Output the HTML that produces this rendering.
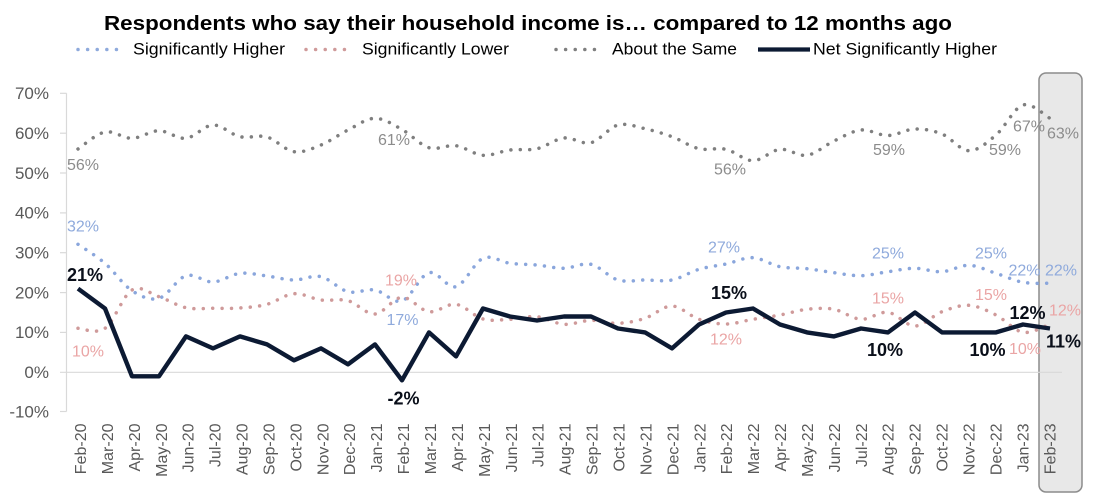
<!DOCTYPE html>
<html><head><meta charset="utf-8">
<style>
html,body{margin:0;padding:0;background:#fff;}
svg{display:block;font-family:"Liberation Sans",Arial,sans-serif;}
</style></head><body>
<svg width="1093" height="498" viewBox="0 0 1093 498" xmlns="http://www.w3.org/2000/svg">
<!-- highlight box -->
<rect x="1039" y="73" width="43" height="419" rx="7" fill="#e8e8e8" stroke="#8c8c8c" stroke-width="1.5"/>

<!-- title -->
<text x="104" y="30" font-size="20.5" font-weight="bold" fill="#000" textLength="848" lengthAdjust="spacingAndGlyphs">Respondents who say their household income is… compared to 12 months ago</text>

<!-- legend -->
<line x1="78" y1="49.5" x2="125" y2="49.5" stroke="#8faadc" stroke-width="3.5" stroke-linecap="round" stroke-dasharray="0.01 9.6"/>
<text x="133" y="54.5" font-size="17" fill="#000" textLength="152" lengthAdjust="spacingAndGlyphs">Significantly Higher</text>
<line x1="306" y1="49.5" x2="353" y2="49.5" stroke="#cf9a9a" stroke-width="3.5" stroke-linecap="round" stroke-dasharray="0.01 9.6"/>
<text x="362" y="54.5" font-size="17" fill="#000" textLength="147" lengthAdjust="spacingAndGlyphs">Significantly Lower</text>
<line x1="556" y1="49.5" x2="603" y2="49.5" stroke="#7f7f7f" stroke-width="3.5" stroke-linecap="round" stroke-dasharray="0.01 9.6"/>
<text x="612" y="54.5" font-size="17" fill="#000" textLength="125" lengthAdjust="spacingAndGlyphs">About the Same</text>
<line x1="758" y1="49.5" x2="810" y2="49.5" stroke="#0c1a33" stroke-width="4.3"/>
<text x="813" y="54.5" font-size="17" fill="#000" textLength="184" lengthAdjust="spacingAndGlyphs">Net Significantly Higher</text>

<!-- y axis -->
<g stroke="#d9d9d9" stroke-width="1.2">
<line x1="66.5" y1="93.3" x2="66.5" y2="411.5"/>
<line x1="60" y1="93.3" x2="66.5" y2="93.3"/>
<line x1="60" y1="133.2" x2="66.5" y2="133.2"/>
<line x1="60" y1="173" x2="66.5" y2="173"/>
<line x1="60" y1="212.9" x2="66.5" y2="212.9"/>
<line x1="60" y1="252.7" x2="66.5" y2="252.7"/>
<line x1="60" y1="292.6" x2="66.5" y2="292.6"/>
<line x1="60" y1="332.4" x2="66.5" y2="332.4"/>
<line x1="60" y1="372.3" x2="1062" y2="372.3"/>
<line x1="60" y1="411.5" x2="66.5" y2="411.5"/>
</g>
<g font-size="17" fill="#595959" text-anchor="end">
<text x="49" y="99">70%</text>
<text x="49" y="139">60%</text>
<text x="49" y="179">50%</text>
<text x="49" y="218.6">40%</text>
<text x="49" y="258.4">30%</text>
<text x="49" y="298.3">20%</text>
<text x="49" y="338.1">10%</text>
<text x="49" y="378">0%</text>
<text x="49" y="417.5">-10%</text>
</g>

<!-- x labels -->
<g font-size="16" fill="#595959" text-anchor="end">
<text transform="translate(86,423.5) rotate(-90)">Feb-20</text>
<text transform="translate(112.9,423.5) rotate(-90)">Mar-20</text>
<text transform="translate(139.8,423.5) rotate(-90)">Apr-20</text>
<text transform="translate(166.8,423.5) rotate(-90)">May-20</text>
<text transform="translate(193.7,423.5) rotate(-90)">Jun-20</text>
<text transform="translate(220.6,423.5) rotate(-90)">Jul-20</text>
<text transform="translate(247.5,423.5) rotate(-90)">Aug-20</text>
<text transform="translate(274.5,423.5) rotate(-90)">Sep-20</text>
<text transform="translate(301.4,423.5) rotate(-90)">Oct-20</text>
<text transform="translate(328.3,423.5) rotate(-90)">Nov-20</text>
<text transform="translate(355.2,423.5) rotate(-90)">Dec-20</text>
<text transform="translate(382.2,423.5) rotate(-90)">Jan-21</text>
<text transform="translate(409.1,423.5) rotate(-90)">Feb-21</text>
<text transform="translate(436,423.5) rotate(-90)">Mar-21</text>
<text transform="translate(462.9,423.5) rotate(-90)">Apr-21</text>
<text transform="translate(489.9,423.5) rotate(-90)">May-21</text>
<text transform="translate(516.8,423.5) rotate(-90)">Jun-21</text>
<text transform="translate(543.7,423.5) rotate(-90)">Jul-21</text>
<text transform="translate(570.6,423.5) rotate(-90)">Aug-21</text>
<text transform="translate(597.6,423.5) rotate(-90)">Sep-21</text>
<text transform="translate(624.5,423.5) rotate(-90)">Oct-21</text>
<text transform="translate(651.4,423.5) rotate(-90)">Nov-21</text>
<text transform="translate(678.3,423.5) rotate(-90)">Dec-21</text>
<text transform="translate(705.3,423.5) rotate(-90)">Jan-22</text>
<text transform="translate(732.2,423.5) rotate(-90)">Feb-22</text>
<text transform="translate(759.1,423.5) rotate(-90)">Mar-22</text>
<text transform="translate(786,423.5) rotate(-90)">Apr-22</text>
<text transform="translate(813,423.5) rotate(-90)">May-22</text>
<text transform="translate(839.9,423.5) rotate(-90)">Jun-22</text>
<text transform="translate(866.8,423.5) rotate(-90)">Jul-22</text>
<text transform="translate(893.7,423.5) rotate(-90)">Aug-22</text>
<text transform="translate(920.7,423.5) rotate(-90)">Sep-22</text>
<text transform="translate(947.6,423.5) rotate(-90)">Oct-22</text>
<text transform="translate(974.5,423.5) rotate(-90)">Nov-22</text>
<text transform="translate(1001.4,423.5) rotate(-90)">Dec-22</text>
<text transform="translate(1028.4,423.5) rotate(-90)">Jan-23</text>
<text transform="translate(1055.3,423.5) rotate(-90)">Feb-23</text>
</g>

<!-- series -->
<g fill="none" stroke-linecap="round" stroke-width="3.5" stroke-dasharray="0.01 9.4">
<path class="sm" stroke="#7f7f7f" d="M78 149 L105 132 L132 138.3 L159 130.7 L186 138.3 L213 125 L240 136.7 L267 137 L294 151.7 L321 145 L348 130 L375 118.3 L402 129.5 L429 147.7 L456 145.7 L483 155.3 L510 150 L537 148.7 L564 138 L591 142.7 L618 125 L645 128.7 L672 136.7 L699 148.7 L726 149.3 L753 160.7 L780 149.3 L807 155.3 L834 141 L861 130 L888 135.5 L915 129 L942 134 L969 150.7 L996 135 L1023 105 L1050 118.3"/>
<path class="sm" stroke="#8aa6dc" d="M78 244.3 L105 263.3 L132 290.7 L159 298.3 L186 275.7 L213 282 L240 273.3 L267 276 L294 280 L321 276.7 L348 291.7 L375 290 L402 301 L429 272.7 L456 286.7 L483 258.3 L510 263.3 L537 265 L564 268.3 L591 264.3 L618 280 L645 280 L672 280 L699 269.3 L726 264 L753 257.7 L780 266.7 L807 268.7 L834 272.7 L861 275.7 L888 271.7 L915 268.3 L942 271.7 L969 265.3 L996 273.3 L1023 282.3 L1050 283.3"/>
<path class="sm" stroke="#cf9a9a" d="M78 328.3 L105 328.3 L132 290 L159 296.7 L186 307.7 L213 308.3 L240 308 L267 304.3 L294 293.7 L321 300 L348 300.7 L375 314 L402 297.3 L429 311.7 L456 304.3 L483 319 L510 319.3 L537 316.7 L564 324.3 L591 320.3 L618 323.3 L645 318.3 L672 306 L699 319.3 L726 324 L753 319.3 L780 315 L807 309.3 L834 309.3 L861 319.3 L888 312.3 L915 326 L942 311.7 L969 305.3 L996 315 L1023 332.3 L1050 324.3"/>
</g>
<path fill="none" stroke="#0c1a33" stroke-width="4.4" stroke-linejoin="round" d="M78 288.6 L105 308.5 L132 376.3 L159 376.3 L186 336.4 L213 348.4 L240 336.4 L267 344.4 L294 360.3 L321 348.4 L348 364.3 L375 344.4 L402 380.3 L429 332.4 L456 356.4 L483 308.5 L510 316.5 L537 320.5 L564 316.5 L591 316.5 L618 328.5 L645 332.4 L672 348.4 L699 324.5 L726 312.5 L753 308.5 L780 324.5 L807 332.4 L834 336.4 L861 328.5 L888 332.4 L915 312.5 L942 332.4 L969 332.4 L996 332.4 L1023 324.5 L1050 328.5"/>

<!-- data labels -->
<g font-size="16" fill="#8c8c8c">
<text x="67" y="170">56%</text>
<text x="378" y="145">61%</text>
<text x="714" y="174.3">56%</text>
<text x="873" y="155">59%</text>
<text x="989" y="155">59%</text>
<text x="1013" y="131.7">67%</text>
<text x="1047" y="138.3">63%</text>
</g>
<g font-size="16" fill="#8faadc">
<text x="67" y="231.7">32%</text>
<text x="386.5" y="325">17%</text>
<text x="708" y="252.7">27%</text>
<text x="872" y="258.3">25%</text>
<text x="975" y="258.3">25%</text>
<text x="1008.5" y="275.7">22%</text>
<text x="1045" y="275.7">22%</text>
</g>
<g font-size="16" fill="#eaa5a5">
<text x="72" y="356.7">10%</text>
<text x="385" y="285.7">19%</text>
<text x="710" y="344.3">12%</text>
<text x="872" y="303.3">15%</text>
<text x="975" y="300">15%</text>
<text x="1009" y="354">10%</text>
<text x="1049" y="315.7">12%</text>
</g>
<g font-size="18" font-weight="bold" fill="#0a0f1a">
<text x="67" y="281">21%</text>
<text x="387.5" y="404.3">-2%</text>
<text x="711" y="299">15%</text>
<text x="867" y="356">10%</text>
<text x="969.5" y="356">10%</text>
<text x="1009.5" y="319">12%</text>
<text x="1046" y="347.7">11%</text>
</g>
</svg>
<script>
document.querySelectorAll('path.sm').forEach(function(p){
  var nums=p.getAttribute('d').match(/-?[\d.]+/g).map(Number);
  var pts=[];for(var i=0;i<nums.length;i+=2)pts.push([nums[i],nums[i+1]]);
  var d='M'+pts[0][0]+' '+pts[0][1];
  for(var i=0;i<pts.length-1;i++){
    var p0=pts[i-1]||pts[i],p1=pts[i],p2=pts[i+1],p3=pts[i+2]||p2;
    var c1x=p1[0]+(p2[0]-p0[0])/6,c1y=p1[1]+(p2[1]-p0[1])/6;
    var c2x=p2[0]-(p3[0]-p1[0])/6,c2y=p2[1]-(p3[1]-p1[1])/6;
    d+=' C'+c1x.toFixed(2)+' '+c1y.toFixed(2)+' '+c2x.toFixed(2)+' '+c2y.toFixed(2)+' '+p2[0]+' '+p2[1];
  }
  p.setAttribute('d',d);
});
</script>
</body></html>
